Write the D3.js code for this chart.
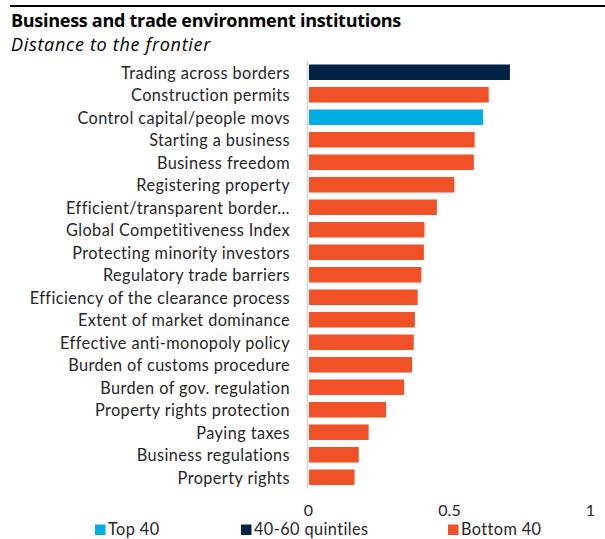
<!DOCTYPE html>
<html>
<head>
<meta charset="utf-8">
<script src="https://cdn.jsdelivr.net/npm/d3@7"></script>
<style>
  html, body { margin: 0; padding: 0; background: #fff; }
  svg { display: block; }
  text { font-family: Lato, "Open Sans", sans-serif; fill: #262626; }
</style>
</head>
<body>
<svg id="chart" width="605" height="539"></svg>
<script>
// Indicators, ordered from highest to lowest score
const categories = [
  "Trading across borders",
  "Construction permits",
  "Control capital/people movs",
  "Starting a business",
  "Business freedom",
  "Registering property",
  "Efficient/transparent border…",
  "Global Competitiveness Index",
  "Protecting minority investors",
  "Regulatory trade barriers",
  "Efficiency of the clearance process",
  "Extent of market dominance",
  "Effective anti-monopoly policy",
  "Burden of customs procedure",
  "Burden of gov. regulation",
  "Property rights protection",
  "Paying taxes",
  "Business regulations",
  "Property rights"
];
// Distance to the frontier (0 = worst, 1 = frontier)
const values = [0.716, 0.641, 0.621, 0.591, 0.588, 0.519, 0.457, 0.413, 0.411, 0.402,
                0.389, 0.379, 0.375, 0.369, 0.341, 0.277, 0.215, 0.180, 0.165];
// Performance group of each indicator
const groups = ["mid", "bottom", "top", "bottom", "bottom", "bottom", "bottom", "bottom", "bottom", "bottom",
                "bottom", "bottom", "bottom", "bottom", "bottom", "bottom", "bottom", "bottom", "bottom"];
const groupKeys = ["top", "mid", "bottom"];
const groupLabels = ["Top 40", "40-60 quintiles", "Bottom 40"];
const groupColors = ["#00aee5", "#002245", "#f15126"];
const tickValues = [0, 0.5, 1];
const tickLabels = ["0", "0.5", "1"];

const rows = categories.map((c, i) => ({ name: c, value: values[i], group: groups[i] }));

const svg = d3.select("#chart");

// Stretch a text element to a given width by adjusting its letter spacing
function fitWidth(node, width) {
  const n = node.getNumberOfChars();
  const w = node.getComputedTextLength();
  const ls = (width - w) / Math.max(1, n);
  d3.select(node).style("letter-spacing", ls + "px");
  return ls;
}

const x = d3.scaleLinear().domain([0, 1]).range([308, 590]);
const y = d3.scaleBand().domain(categories).range([61, 488.5])
  .paddingInner(0.31).paddingOuter(0.155);
const color = d3.scaleOrdinal().domain(groupKeys).range(groupColors);

// Header rule, title and subtitle
svg.append("line")
  .attr("x1", 10).attr("x2", 605).attr("y1", 6).attr("y2", 6)
  .attr("stroke", "#000").attr("stroke-width", 2);
const title = svg.append("text")
  .attr("x", 11).attr("y", 26.5)
  .style("font-family", "'Open Sans', sans-serif")
  .style("font-weight", "bold").style("font-size", "18px").style("fill", "#000")
  .text("Business and trade environment institutions");
fitWidth(title.node(), 390);
const subtitle = svg.append("text")
  .attr("x", 11).attr("y", 50.5)
  .style("font-family", "'Open Sans', sans-serif")
  .style("font-style", "italic").style("font-size", "18px").style("fill", "#000")
  .text("Distance to the frontier");
fitWidth(subtitle.node(), 200);

// Bars
svg.append("g").selectAll("rect")
  .data(rows)
  .join("rect")
  .attr("x", x(0) + 1)
  .attr("y", d => y(d.name))
  .attr("width", d => x(d.value) - x(0) - 1)
  .attr("height", y.bandwidth())
  .attr("fill", d => color(d.group));

// Vertical axis line at zero
svg.append("line")
  .attr("x1", x(0) - 0.5).attr("x2", x(0) - 0.5)
  .attr("y1", y.range()[0]).attr("y2", y.range()[1])
  .attr("stroke", "#d4d4d4").attr("stroke-width", 1.5);

// Category labels
const yAxis = d3.axisLeft(y).tickSize(0).tickPadding(0);
const yg = svg.append("g").attr("transform", `translate(${x(0) - 18},0)`).call(yAxis);
yg.select(".domain").remove();
const labels = yg.selectAll("text")
  .style("font-family", "Lato, sans-serif")
  .style("font-size", "16.3px")
  .attr("dy", "0.41em")
  .attr("fill", "#262626");
// same spacing for every label, set from the first one
const labelSpacing = fitWidth(labels.nodes()[0], 169);
labels.style("letter-spacing", labelSpacing + "px");

// Value axis labels
const xAxis = d3.axisBottom(x).tickValues(tickValues)
  .tickFormat((d, i) => tickLabels[i]).tickSize(0).tickPadding(0);
const xg = svg.append("g").attr("transform", "translate(0,505)").call(xAxis);
xg.select(".domain").remove();
xg.selectAll("text")
  .style("font-family", "Lato, sans-serif")
  .style("font-size", "16px")
  .attr("dy", "0.71em")
  .attr("fill", "#262626");

// Legend
const legendX = [95, 241, 448];
const legend = svg.append("g").selectAll("g")
  .data(groupKeys)
  .join("g")
  .attr("transform", (d, i) => `translate(${legendX[i]},524.5)`);
legend.append("rect")
  .attr("width", 10.5).attr("height", 10.5)
  .attr("fill", d => color(d));
legend.append("text")
  .attr("x", 13).attr("y", 10.5)
  .style("font-size", "16.3px")
  .style("letter-spacing", labelSpacing + "px")
  .text((d, i) => groupLabels[i]);
</script>
</body>
</html>
